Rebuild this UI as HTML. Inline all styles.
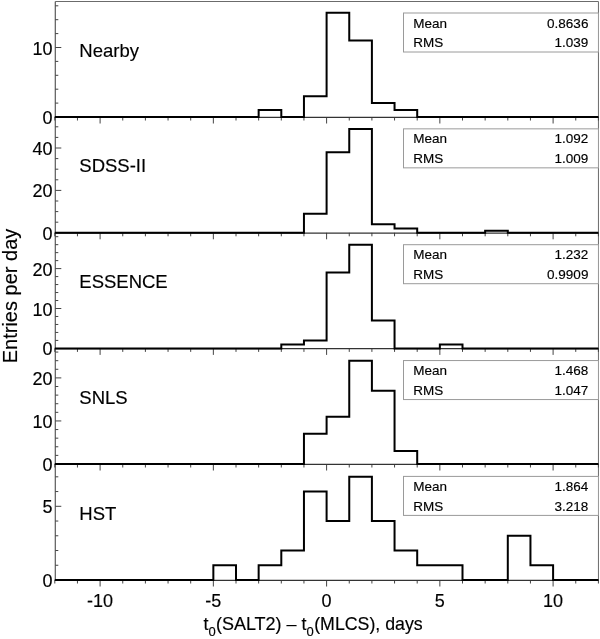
<!DOCTYPE html><html><head><meta charset="utf-8"><title>t0 SALT2 - t0 MLCS</title>
<style>html,body{margin:0;padding:0;background:#fff;}svg{display:block;}text{font-family:"Liberation Sans",Arial,Helvetica,sans-serif;fill:#000;stroke:#000;stroke-width:0.15px;}</style></head><body>
<svg width="600" height="639" viewBox="0 0 600 639">
<rect width="600" height="639" fill="#fff"/>
<path d="M55.3 1.5 H598.45 V580.00" fill="none" stroke="#6b6b6b" stroke-width="1"/>
<path d="M55.3 1.5 V580.00" fill="none" stroke="#5a5a5a" stroke-width="1.2"/>
<path d="M55.3 103.10h3 M55.3 89.20h3 M55.3 75.30h3 M55.3 61.40h3 M55.3 47.50h6 M55.3 33.60h3 M55.3 19.70h3 M55.3 5.80h3 M54.80 117.00v3.5 M77.45 117.00v3.5 M100.10 117.00v6.5 M122.75 117.00v3.5 M145.40 117.00v3.5 M168.05 117.00v3.5 M190.70 117.00v3.5 M213.35 117.00v6.5 M236.00 117.00v3.5 M258.65 117.00v3.5 M281.30 117.00v3.5 M303.95 117.00v3.5 M326.60 117.00v6.5 M349.25 117.00v3.5 M371.90 117.00v3.5 M394.55 117.00v3.5 M417.20 117.00v3.5 M439.85 117.00v6.5 M462.50 117.00v3.5 M485.15 117.00v3.5 M507.80 117.00v3.5 M530.45 117.00v3.5 M553.10 117.00v6.5 M575.75 117.00v3.5 M598.40 117.00v3.5" fill="none" stroke="#444" stroke-width="1.0"/>
<path d="M55.3 117.30H598.45" fill="none" stroke="#333" stroke-width="1.2"/>
<text x="52.5" y="124.00" font-size="18" text-anchor="end">0</text>
<text x="52.5" y="54.50" font-size="18" text-anchor="end">10</text>
<path d="M54.80 117.00 H258.65 V110.05 H281.30 V117.00 H303.95 V96.15 H326.60 V12.75 H349.25 V40.55 H371.90 V103.10 H394.55 V110.05 H417.20 V117.00 H598.40" fill="none" stroke="#000" stroke-width="2.0" stroke-linejoin="miter"/>
<text x="79.3" y="56.60" font-size="18.5">Nearby</text>
<rect x="403.5" y="13.00" width="194.95" height="39.0" fill="#fff" stroke="#9a9a9a" stroke-width="1"/>
<text x="413.3" y="27.50" font-size="13.5">Mean</text>
<text x="413.3" y="47.10" font-size="13.5">RMS</text>
<text x="588.4" y="27.50" font-size="13.5" text-anchor="end">0.8636</text>
<text x="588.4" y="47.10" font-size="13.5" text-anchor="end">1.039</text>
<path d="M55.3 222.20h3 M55.3 211.60h3 M55.3 201.00h3 M55.3 190.40h6 M55.3 179.80h3 M55.3 169.20h3 M55.3 158.60h3 M55.3 148.00h6 M55.3 137.40h3 M55.3 126.80h3 M54.80 232.80v3.5 M77.45 232.80v3.5 M100.10 232.80v6.5 M122.75 232.80v3.5 M145.40 232.80v3.5 M168.05 232.80v3.5 M190.70 232.80v3.5 M213.35 232.80v6.5 M236.00 232.80v3.5 M258.65 232.80v3.5 M281.30 232.80v3.5 M303.95 232.80v3.5 M326.60 232.80v6.5 M349.25 232.80v3.5 M371.90 232.80v3.5 M394.55 232.80v3.5 M417.20 232.80v3.5 M439.85 232.80v6.5 M462.50 232.80v3.5 M485.15 232.80v3.5 M507.80 232.80v3.5 M530.45 232.80v3.5 M553.10 232.80v6.5 M575.75 232.80v3.5 M598.40 232.80v3.5" fill="none" stroke="#444" stroke-width="1.0"/>
<path d="M55.3 233.10H598.45" fill="none" stroke="#333" stroke-width="1.2"/>
<text x="52.5" y="239.80" font-size="18" text-anchor="end">0</text>
<text x="52.5" y="197.40" font-size="18" text-anchor="end">20</text>
<text x="52.5" y="155.00" font-size="18" text-anchor="end">40</text>
<path d="M54.80 232.80 H303.95 V213.72 H326.60 V152.24 H349.25 V128.92 H371.90 V224.32 H394.55 V228.56 H417.20 V232.80 H485.15 V230.68 H507.80 V232.80 H598.40" fill="none" stroke="#000" stroke-width="2.0" stroke-linejoin="miter"/>
<text x="79.3" y="172.45" font-size="18.5">SDSS-II</text>
<rect x="403.5" y="128.85" width="194.95" height="39.0" fill="#fff" stroke="#9a9a9a" stroke-width="1"/>
<text x="413.3" y="143.35" font-size="13.5">Mean</text>
<text x="413.3" y="162.95" font-size="13.5">RMS</text>
<text x="588.4" y="143.35" font-size="13.5" text-anchor="end">1.092</text>
<text x="588.4" y="162.95" font-size="13.5" text-anchor="end">1.009</text>
<path d="M55.3 340.42h3 M55.3 332.44h3 M55.3 324.46h3 M55.3 316.48h3 M55.3 308.50h6 M55.3 300.52h3 M55.3 292.54h3 M55.3 284.56h3 M55.3 276.58h3 M55.3 268.60h6 M55.3 260.62h3 M55.3 252.64h3 M55.3 244.66h3 M55.3 236.68h3 M54.80 348.40v3.5 M77.45 348.40v3.5 M100.10 348.40v6.5 M122.75 348.40v3.5 M145.40 348.40v3.5 M168.05 348.40v3.5 M190.70 348.40v3.5 M213.35 348.40v6.5 M236.00 348.40v3.5 M258.65 348.40v3.5 M281.30 348.40v3.5 M303.95 348.40v3.5 M326.60 348.40v6.5 M349.25 348.40v3.5 M371.90 348.40v3.5 M394.55 348.40v3.5 M417.20 348.40v3.5 M439.85 348.40v6.5 M462.50 348.40v3.5 M485.15 348.40v3.5 M507.80 348.40v3.5 M530.45 348.40v3.5 M553.10 348.40v6.5 M575.75 348.40v3.5 M598.40 348.40v3.5" fill="none" stroke="#444" stroke-width="1.0"/>
<path d="M55.3 348.70H598.45" fill="none" stroke="#333" stroke-width="1.2"/>
<text x="52.5" y="355.40" font-size="18" text-anchor="end">0</text>
<text x="52.5" y="315.50" font-size="18" text-anchor="end">10</text>
<text x="52.5" y="275.60" font-size="18" text-anchor="end">20</text>
<path d="M54.80 348.40 H281.30 V344.41 H303.95 V340.42 H326.60 V272.59 H349.25 V244.66 H371.90 V320.47 H394.55 V348.40 H439.85 V344.41 H462.50 V348.40 H598.40" fill="none" stroke="#000" stroke-width="2.0" stroke-linejoin="miter"/>
<text x="79.3" y="288.30" font-size="18.5">ESSENCE</text>
<rect x="403.5" y="244.70" width="194.95" height="39.0" fill="#fff" stroke="#9a9a9a" stroke-width="1"/>
<text x="413.3" y="259.20" font-size="13.5">Mean</text>
<text x="413.3" y="278.80" font-size="13.5">RMS</text>
<text x="588.4" y="259.20" font-size="13.5" text-anchor="end">1.232</text>
<text x="588.4" y="278.80" font-size="13.5" text-anchor="end">0.9909</text>
<path d="M55.3 455.39h3 M55.3 446.78h3 M55.3 438.17h3 M55.3 429.56h3 M55.3 420.95h6 M55.3 412.34h3 M55.3 403.73h3 M55.3 395.12h3 M55.3 386.51h3 M55.3 377.90h6 M55.3 369.29h3 M55.3 360.68h3 M55.3 352.07h3 M54.80 464.00v3.5 M77.45 464.00v3.5 M100.10 464.00v6.5 M122.75 464.00v3.5 M145.40 464.00v3.5 M168.05 464.00v3.5 M190.70 464.00v3.5 M213.35 464.00v6.5 M236.00 464.00v3.5 M258.65 464.00v3.5 M281.30 464.00v3.5 M303.95 464.00v3.5 M326.60 464.00v6.5 M349.25 464.00v3.5 M371.90 464.00v3.5 M394.55 464.00v3.5 M417.20 464.00v3.5 M439.85 464.00v6.5 M462.50 464.00v3.5 M485.15 464.00v3.5 M507.80 464.00v3.5 M530.45 464.00v3.5 M553.10 464.00v6.5 M575.75 464.00v3.5 M598.40 464.00v3.5" fill="none" stroke="#444" stroke-width="1.0"/>
<path d="M55.3 464.30H598.45" fill="none" stroke="#333" stroke-width="1.2"/>
<text x="52.5" y="471.00" font-size="18" text-anchor="end">0</text>
<text x="52.5" y="427.95" font-size="18" text-anchor="end">10</text>
<text x="52.5" y="384.90" font-size="18" text-anchor="end">20</text>
<path d="M54.80 464.00 H303.95 V433.87 H326.60 V416.64 H349.25 V360.68 H371.90 V390.81 H394.55 V451.08 H417.20 V464.00 H598.40" fill="none" stroke="#000" stroke-width="2.0" stroke-linejoin="miter"/>
<text x="79.3" y="404.15" font-size="18.5">SNLS</text>
<rect x="403.5" y="360.55" width="194.95" height="39.0" fill="#fff" stroke="#9a9a9a" stroke-width="1"/>
<text x="413.3" y="375.05" font-size="13.5">Mean</text>
<text x="413.3" y="394.65" font-size="13.5">RMS</text>
<text x="588.4" y="375.05" font-size="13.5" text-anchor="end">1.468</text>
<text x="588.4" y="394.65" font-size="13.5" text-anchor="end">1.047</text>
<path d="M55.3 565.26h3 M55.3 550.52h3 M55.3 535.78h3 M55.3 521.04h3 M55.3 506.30h6 M55.3 491.56h3 M55.3 476.82h3 M54.80 580.00v3.5 M77.45 580.00v3.5 M100.10 580.00v6.5 M122.75 580.00v3.5 M145.40 580.00v3.5 M168.05 580.00v3.5 M190.70 580.00v3.5 M213.35 580.00v6.5 M236.00 580.00v3.5 M258.65 580.00v3.5 M281.30 580.00v3.5 M303.95 580.00v3.5 M326.60 580.00v6.5 M349.25 580.00v3.5 M371.90 580.00v3.5 M394.55 580.00v3.5 M417.20 580.00v3.5 M439.85 580.00v6.5 M462.50 580.00v3.5 M485.15 580.00v3.5 M507.80 580.00v3.5 M530.45 580.00v3.5 M553.10 580.00v6.5 M575.75 580.00v3.5 M598.40 580.00v3.5" fill="none" stroke="#444" stroke-width="1.0"/>
<path d="M55.3 580.30H598.45" fill="none" stroke="#333" stroke-width="1.2"/>
<text x="52.5" y="587.00" font-size="18" text-anchor="end">0</text>
<text x="52.5" y="513.30" font-size="18" text-anchor="end">5</text>
<path d="M54.80 580.00 H213.35 V565.26 H236.00 V580.00 H258.65 V565.26 H281.30 V550.52 H303.95 V491.56 H326.60 V521.04 H349.25 V476.82 H371.90 V521.04 H394.55 V550.52 H417.20 V565.26 H462.50 V580.00 H507.80 V535.78 H530.45 V565.26 H553.10 V580.00 H598.40" fill="none" stroke="#000" stroke-width="2.0" stroke-linejoin="miter"/>
<text x="79.3" y="520.00" font-size="18.5">HST</text>
<rect x="403.5" y="476.40" width="194.95" height="39.0" fill="#fff" stroke="#9a9a9a" stroke-width="1"/>
<text x="413.3" y="490.90" font-size="13.5">Mean</text>
<text x="413.3" y="510.50" font-size="13.5">RMS</text>
<text x="588.4" y="490.90" font-size="13.5" text-anchor="end">1.864</text>
<text x="588.4" y="510.50" font-size="13.5" text-anchor="end">3.218</text>
<text x="100.10" y="606.7" font-size="18" text-anchor="middle">-10</text>
<text x="213.35" y="606.7" font-size="18" text-anchor="middle">-5</text>
<text x="326.60" y="606.7" font-size="18" text-anchor="middle">0</text>
<text x="439.85" y="606.7" font-size="18" text-anchor="middle">5</text>
<text x="553.10" y="606.7" font-size="18" text-anchor="middle">10</text>
<text y="629.6" font-size="18"><tspan x="203.6">t</tspan><tspan x="208.6" dy="6" font-size="13">0</tspan><tspan x="215.9" dy="-6">(SALT2)</tspan><tspan x="286.6">–</tspan><tspan x="301.4">t</tspan><tspan x="306.4" dy="6" font-size="13">0</tspan><tspan x="314.2" dy="-6" font-size="17.75">(MLCS), days</tspan></text>
<text transform="translate(17.4 296) rotate(-90)" font-size="20" text-anchor="middle">Entries per day</text>
</svg></body></html>
